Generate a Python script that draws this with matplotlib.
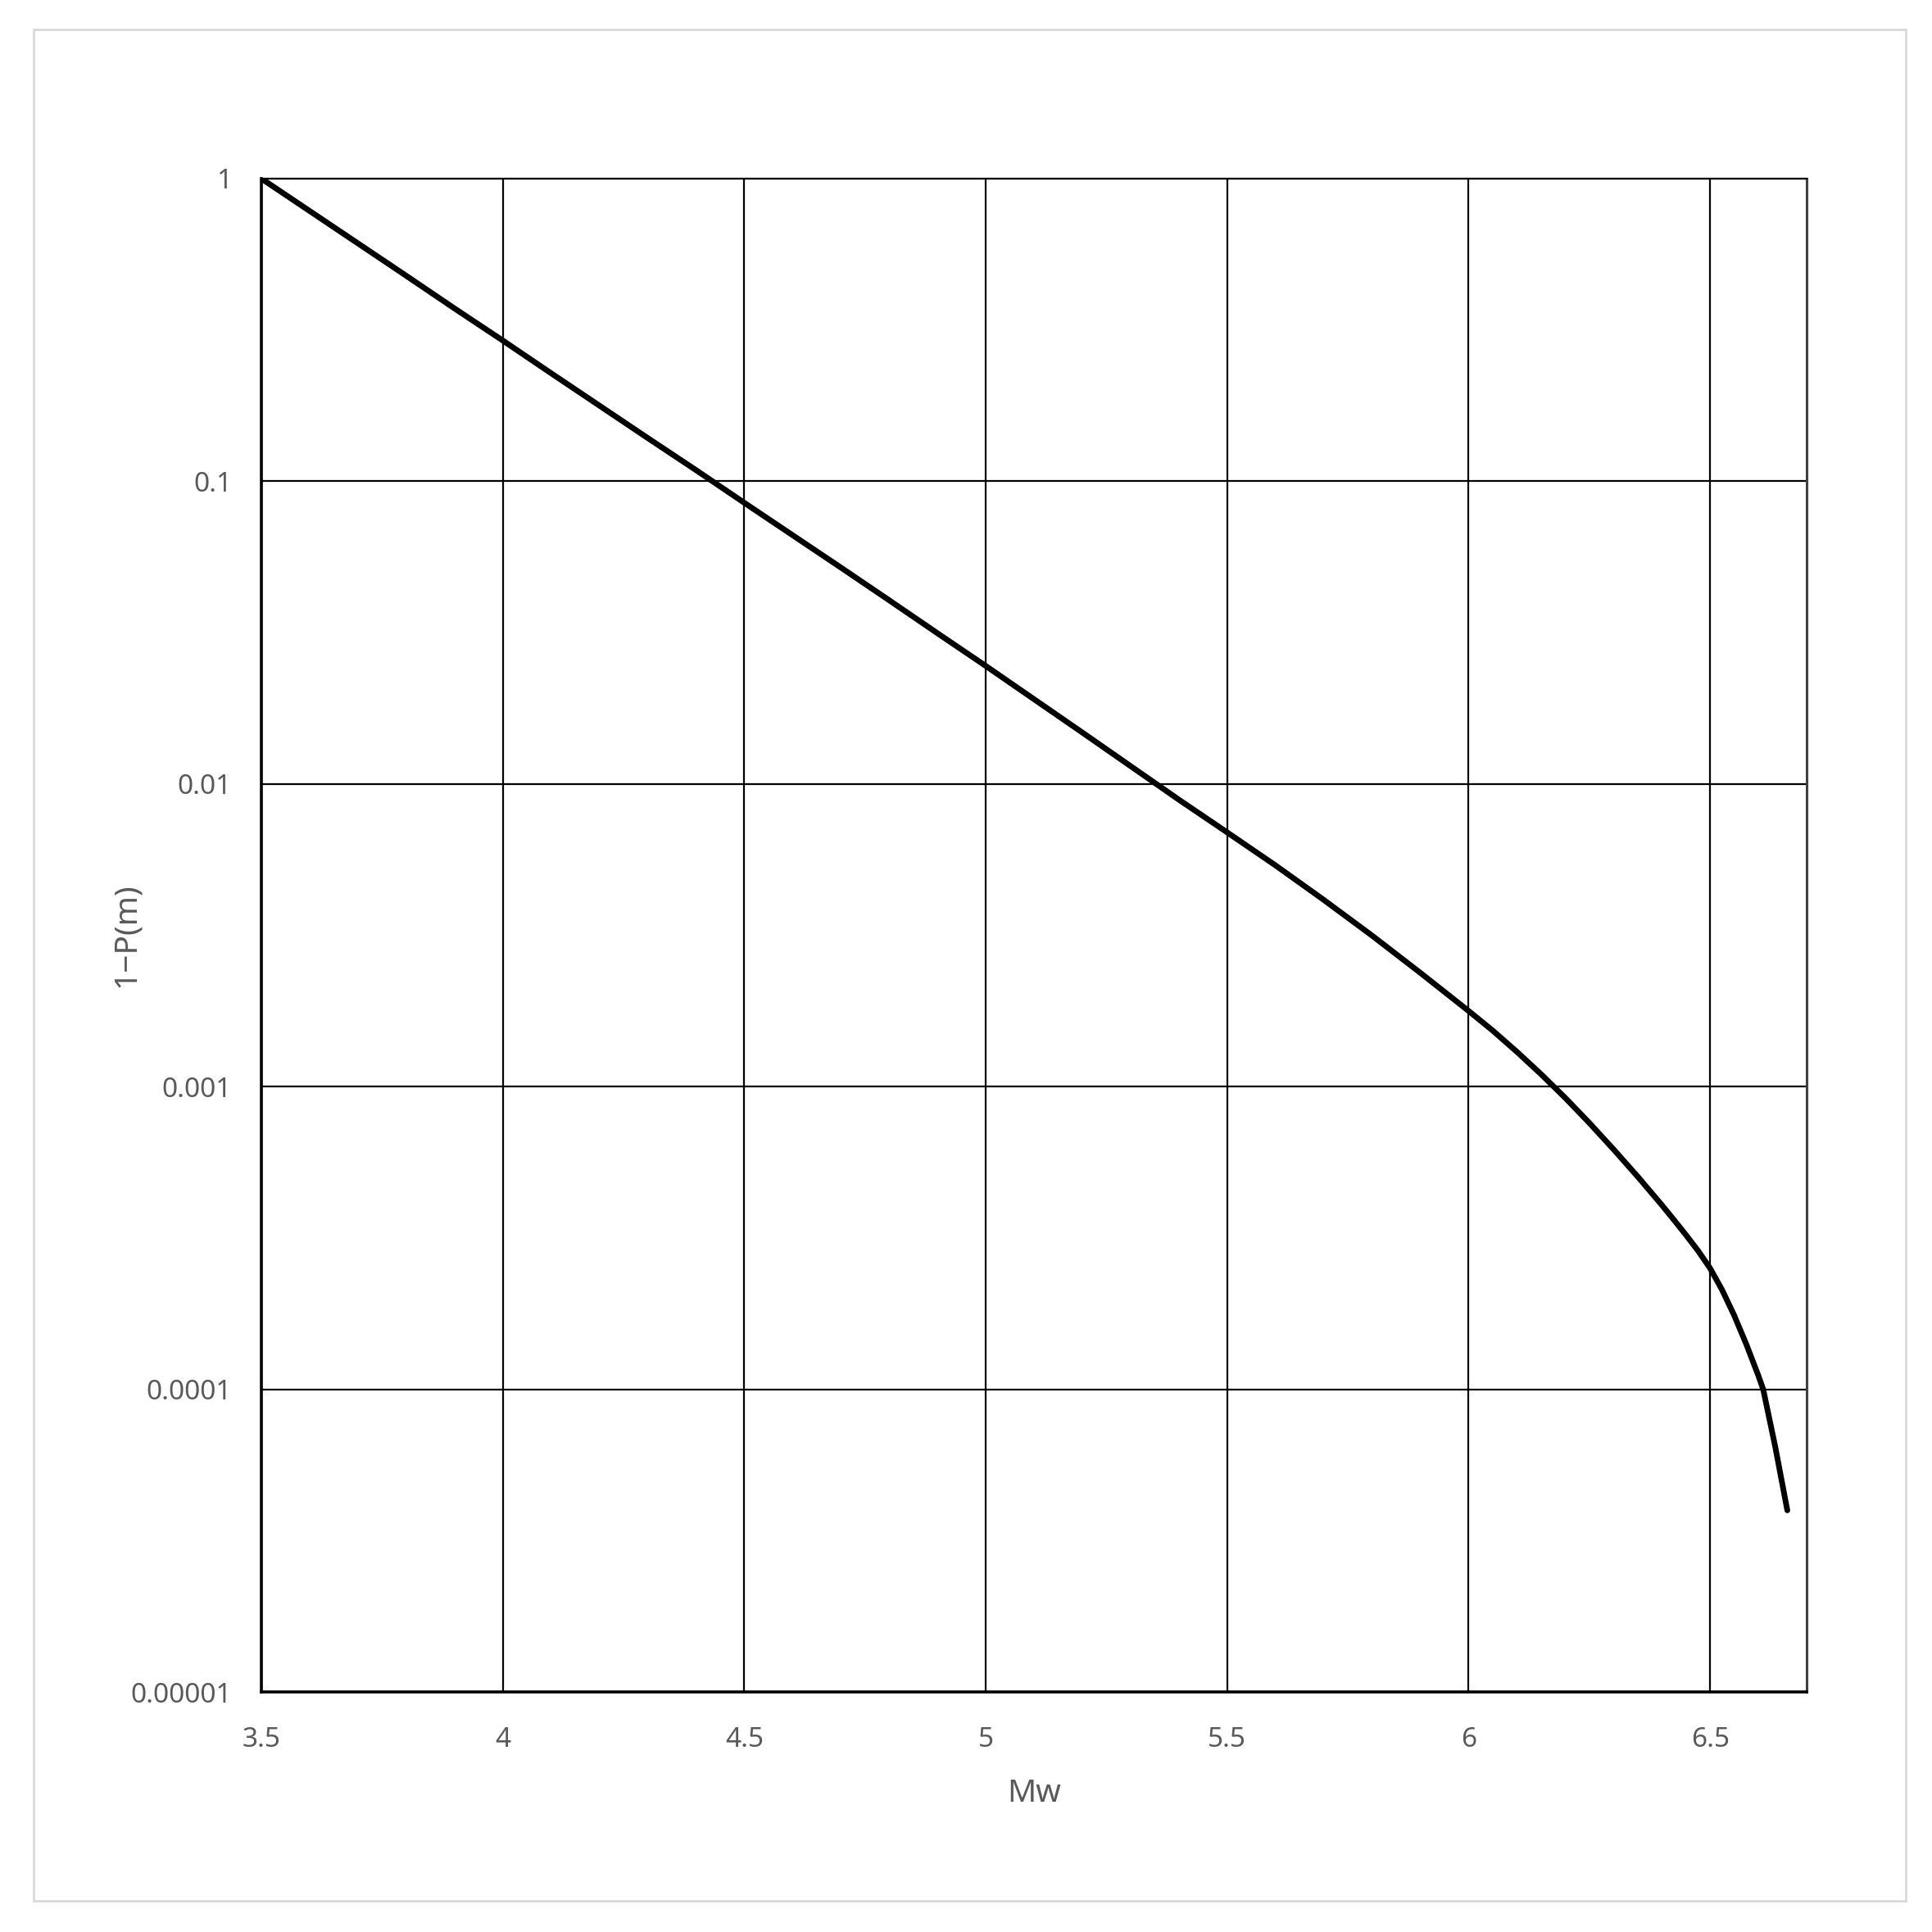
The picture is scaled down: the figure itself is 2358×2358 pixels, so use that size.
import matplotlib
matplotlib.use("Agg")
import matplotlib.pyplot as plt
from matplotlib.patches import Rectangle

plt.rcParams['font.family'] = ['Noto Sans', 'DejaVu Sans']

# Data: magnitude Mw and log10(1-P(m))
mw = [3.5, 3.6, 3.7, 3.8, 3.9, 4.0, 4.1, 4.2, 4.3, 4.4, 4.5, 4.6, 4.7, 4.8, 4.9,
      5.0, 5.1, 5.2, 5.3, 5.4, 5.5, 5.6, 5.7, 5.8, 5.9, 6.0, 6.05, 6.1, 6.15, 6.2,
      6.25, 6.3, 6.35, 6.4, 6.425, 6.45, 6.475, 6.5, 6.525, 6.55, 6.575, 6.6, 6.61,
      6.635, 6.66]
log_exceed = [0.0, -0.107, -0.214, -0.321, -0.429, -0.535, -0.643, -0.750, -0.857,
              -0.963, -1.071, -1.178, -1.285, -1.393, -1.502, -1.610, -1.720, -1.830,
              -1.941, -2.052, -2.160, -2.269, -2.383, -2.501, -2.624, -2.750, -2.815,
              -2.885, -2.959, -3.037, -3.120, -3.207, -3.297, -3.391, -3.440, -3.490,
              -3.542, -3.600, -3.672, -3.756, -3.851, -3.955, -4.0, -4.19, -4.40]
exceed = [10 ** v for v in log_exceed]

x_ticks = [3.5, 4, 4.5, 5, 5.5, 6, 6.5]
x_tick_labels = ["3.5", "4", "4.5", "5", "5.5", "6", "6.5"]
y_ticks = [1, 0.1, 0.01, 0.001, 0.0001, 0.00001]
y_tick_labels = ["1", "0.1", "0.01", "0.001", "0.0001", "0.00001"]

W = 2358
fig = plt.figure(figsize=(W / 100, W / 100), dpi=100)
fig.patch.set_facecolor("white")

# chart-area border
fig.add_artist(Rectangle((41 / W, 1 - 2320 / W), (2326 - 41) / W, (2320 - 36) / W,
                         transform=fig.transFigure, fill=False,
                         edgecolor="#d9d9d9", linewidth=2.0))

left, right, top, bottom = 319, 2205, 218, 2065
ax = fig.add_axes([left / W, 1 - bottom / W, (right - left) / W, (bottom - top) / W])

ax.plot(mw, exceed, color="black", linewidth=5.0, solid_capstyle="round",
        solid_joinstyle="round", zorder=3)

ax.set_yscale("log")
ax.set_xlim(3.5, 6.7)
ax.set_ylim(1e-5, 1)

ax.set_xticks(x_ticks)
ax.set_xticklabels(x_tick_labels)
ax.set_yticks(y_ticks)
ax.set_yticklabels(y_tick_labels)
ax.yaxis.set_minor_locator(matplotlib.ticker.NullLocator())
ax.xaxis.set_minor_locator(matplotlib.ticker.NullLocator())

ax.grid(True, which="major", color="black", linewidth=1.6, zorder=1)
ax.set_axisbelow(True)

ax.tick_params(axis="both", length=0, labelsize=24, labelcolor="#595959")
ax.tick_params(axis="x", pad=30)
ax.tick_params(axis="y", pad=26)

for name, sp in ax.spines.items():
    sp.set_color("black")
    sp.set_linewidth(1.6)
ax.spines["left"].set_linewidth(2.6)
ax.spines["bottom"].set_linewidth(2.6)
ax.spines["right"].set_color("#404040")
ax.spines["right"].set_linewidth(2.2)

ax.set_xlabel("Mw", fontsize=28, color="#595959", labelpad=22)
ax.set_ylabel("1\u2212P(m)", fontsize=28, color="#595959")
ax.yaxis.set_label_coords(-0.0774, 0.5)

fig.savefig("out.png", dpi=100, facecolor="white")
